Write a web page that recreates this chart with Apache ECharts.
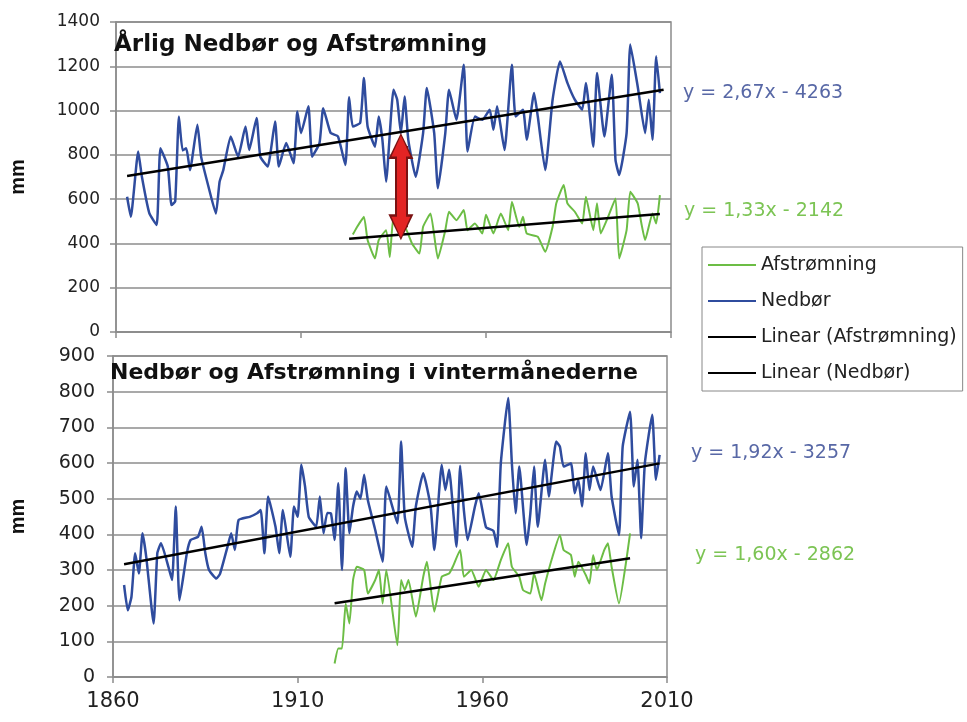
<!DOCTYPE html>
<html>
<head>
<meta charset="utf-8">
<script src="https://cdn.jsdelivr.net/npm/echarts@6/dist/echarts.min.js"></script>
<style>
html,body{margin:0;padding:0;background:#fff;}
#chart{width:967px;height:722px;}
</style>
</head>
<body>
<div id="chart"></div>
<script>
// ---- Data ----
// Annual precipitation (Nedbør), top panel
const annualRainYears = [1863,1864,1866,1867,1869,1871,1872,1874,1875,1876,1877,1878,1879,1880,1882,1883,1885,1887,1888,1889,1891,1893,1895,1896,1898,1899,1901,1903,1904,1906,1908,1909,1910,1912,1913,1915,1916,1918,1920,1922,1923,1924,1926,1927,1928,1930,1931,1932,1933,1935,1936,1937,1938,1939,1941,1943,1944,1946,1947,1949,1950,1952,1954,1955,1957,1959,1961,1962,1963,1965,1967,1968,1970,1971,1973,1974,1976,1978,1980,1982,1984,1986,1987,1989,1990,1992,1994,1995,1996,1998,1999,2001,2003,2004,2005,2006,2007];
const annualRainValues = [611,520,815,701,537,483,830,747,573,590,973,820,830,731,936,792,656,535,679,731,883,792,928,822,966,792,747,951,747,853,762,996,898,1019,792,853,1011,899,883,754,1060,928,945,1147,928,837,973,868,679,1094,1049,898,1064,868,701,898,1102,898,649,898,1094,958,1207,815,973,958,1004,913,1019,822,1207,973,1004,868,1079,973,731,1049,1222,1125,1049,1004,1125,837,1170,883,1162,777,709,898,1298,1109,898,1049,868,1245,1079];

// Annual runoff (Afstrømning), top panel
const annualRunoffYears = [1924,1925,1927,1928,1930,1931,1933,1934,1935,1937,1938,1940,1942,1943,1945,1947,1949,1950,1952,1954,1955,1957,1959,1960,1962,1964,1966,1967,1969,1970,1971,1974,1976,1978,1979,1981,1982,1984,1986,1987,1989,1990,1991,1993,1995,1996,1998,1999,2001,2002,2003,2005,2006,2007];
const annualRunoffValues = [440,470,520,415,332,415,460,339,520,445,475,400,354,475,535,332,460,543,505,551,460,490,445,530,445,535,460,588,475,520,445,430,362,475,581,664,581,543,490,611,460,581,445,520,603,332,460,633,581,490,415,535,490,618];

// Winter precipitation, bottom panel
const winterRainYears = [1863,1864,1865,1866,1867,1868,1869,1871,1872,1873,1875,1876,1877,1878,1880,1881,1883,1884,1885,1886,1888,1889,1891,1892,1893,1894,1897,1899,1900,1901,1902,1904,1905,1906,1908,1909,1910,1911,1912,1913,1915,1916,1917,1918,1919,1920,1921,1922,1923,1924,1925,1926,1927,1928,1929,1931,1933,1934,1937,1938,1939,1941,1942,1944,1946,1947,1949,1950,1951,1953,1954,1955,1956,1958,1959,1961,1963,1964,1965,1967,1968,1969,1970,1972,1973,1974,1975,1977,1978,1980,1981,1982,1984,1985,1986,1987,1988,1989,1990,1992,1994,1995,1997,1998,2000,2001,2002,2003,2004,2006,2007,2008];
const winterRainValues = [258,187,225,347,290,403,337,150,347,375,309,272,478,215,347,384,393,421,347,300,276,290,365,403,356,440,449,459,468,347,506,421,347,468,337,478,449,595,534,449,421,506,403,460,459,384,543,300,585,403,478,520,500,567,496,412,323,534,431,660,449,365,478,571,478,356,595,524,581,365,592,468,384,478,515,420,410,365,599,782,599,459,590,370,459,590,421,609,506,660,646,590,599,515,553,478,627,524,590,524,627,506,398,646,744,534,609,389,599,735,553,623];

// Winter runoff, bottom panel
const winterRunoffYears = [1920,1921,1922,1923,1924,1925,1926,1928,1929,1931,1932,1933,1934,1937,1938,1939,1940,1942,1944,1945,1947,1949,1951,1952,1954,1955,1957,1959,1961,1963,1965,1967,1968,1970,1971,1973,1974,1976,1977,1979,1981,1982,1984,1985,1986,1988,1989,1990,1991,1993,1994,1995,1997,1999,2000];
const winterRunoffValues = [38,80,80,206,150,272,309,300,234,272,300,206,300,89,272,244,272,169,281,323,183,281,290,309,356,281,300,253,300,272,328,375,309,281,244,234,290,215,262,337,398,356,342,281,323,286,262,342,300,356,375,309,206,328,403];

// Linear trend lines (end points)
const annualRainTrendYears = [1863, 2008];
const annualRainTrendValues = [705, 1094];
const annualRunoffTrendYears = [1923, 2007];
const annualRunoffTrendValues = [421, 533];
const winterRainTrendYears = [1863, 2008];
const winterRainTrendValues = [316, 599];
const winterRunoffTrendYears = [1920, 2000];
const winterRunoffTrendValues = [207, 333];

// Red double arrow (year, from, to) in the top panel
const arrowYear = [1937];
const arrowFrom = [840];
const arrowTo = [473];

// Texts
const titleTop = 'Årlig Nedbør og Afstrømning';
const titleBottom = 'Nedbør og Afstrømning i vintermånederne';
const equations = ['y = 2,67x - 4263', 'y = 1,33x - 2142', 'y = 1,92x - 3257', 'y = 1,60x - 2862'];
const legendNames = ['Afstrømning', 'Nedbør', 'Linear (Afstrømning)', 'Linear (Nedbør)'];

// ---- Build ----
function pairs(xs, ys) { return xs.map((x, i) => [x, ys[i]]); }

const BLUE = '#2f4c9e';
const GREEN = '#6cbd45';
const GRIDC = '#8c8c8c';
const FONT = 'DejaVu Sans';

function xAxisCfg(gi, showLabels) {
  return {
    type: 'value', gridIndex: gi, min: 1860, max: 2010, interval: 50,
    axisLine: { show: true, lineStyle: { color: GRIDC, width: 1.5 } },
    axisTick: { show: true, length: 6, lineStyle: { color: GRIDC, width: 1.5 } },
    splitLine: { show: false },
    axisLabel: { show: showLabels, color: '#222', fontFamily: FONT, fontSize: 21, margin: 14,
      formatter: v => String(v) }
  };
}
function yAxisCfg(gi, max, interval, fs, margin, gap) {
  return {
    type: 'value', gridIndex: gi, min: 0, max: max, interval: interval,
    name: 'mm', nameLocation: 'middle', nameGap: gap,
    nameTextStyle: { fontFamily: 'Liberation Sans', fontWeight: 'bold', fontSize: 20, color: '#111' },
    axisLine: { show: true, lineStyle: { color: GRIDC, width: 1.5 } },
    axisTick: { show: true, length: 6, lineStyle: { color: GRIDC, width: 1.5 } },
    splitLine: { show: true, lineStyle: { color: GRIDC, width: 1.5 } },
    axisLabel: { color: '#222', fontFamily: FONT, fontSize: fs, margin: margin, formatter: v => String(v) }
  };
}
function dataSeries(name, gi, xs, ys, color, width) {
  return {
    name: name, type: 'line', xAxisIndex: gi, yAxisIndex: gi,
    data: pairs(xs, ys), showSymbol: false, symbol: 'none', smooth: 0.15,
    lineStyle: { color: color, width: width }, itemStyle: { color: color },
    z: 2, silent: true, animation: false
  };
}
function trendSeries(name, gi, xs, ys) {
  return {
    name: name, type: 'line', xAxisIndex: gi, yAxisIndex: gi,
    data: pairs(xs, ys), showSymbol: false, symbol: 'none',
    lineStyle: { color: '#000', width: 2.5 }, itemStyle: { color: '#000' },
    z: 3, silent: true, animation: false
  };
}
function arrowSeries(color, width, size) {
  return {
    name: 'arrow', type: 'line', xAxisIndex: 0, yAxisIndex: 0, data: [],
    z: 5, silent: true, animation: false,
    markLine: {
      silent: true, animation: false,
      symbol: ['triangle', 'triangle'], symbolSize: size,
      label: { show: false },
      lineStyle: { color: color, width: width, type: 'solid' },
      data: arrowYear.map((y, i) => [{ coord: [y, arrowFrom[i]] }, { coord: [y, arrowTo[i]] }])
    }
  };
}

const option = {
  animation: false,
  backgroundColor: '#fff',
  grid: [
    { left: 110, top: 22, width: 561, height: 310, show: true, borderColor: GRIDC, borderWidth: 1.5, backgroundColor: '#fff' },
    { left: 109, top: 356, width: 558, height: 321, show: true, borderColor: GRIDC, borderWidth: 1.5, backgroundColor: '#fff' }
  ],
  xAxis: [xAxisCfg(0, false), xAxisCfg(1, true)],
  yAxis: [yAxisCfg(0, 1400, 200, 17, 16, 88), yAxisCfg(1, 900, 100, 19, 18, 85)],
  title: [
    { text: titleTop, left: 114, top: 34, padding: 0,
      textStyle: { fontFamily: FONT, fontWeight: 'bold', fontSize: 23, color: '#111' } },
    { text: titleBottom, left: 110, top: 362, padding: 0,
      textStyle: { fontFamily: FONT, fontWeight: 'bold', fontSize: 22, color: '#111' } }
  ],
  legend: {
    data: legendNames.map(n => ({ name: n, icon: 'rect' })),
    orient: 'vertical', left: 702, top: 247,
    padding: [7, 6, 7, 6], itemGap: 14, itemWidth: 48, itemHeight: 2,
    borderColor: '#888', borderWidth: 1, backgroundColor: '#fff',
    textStyle: { fontFamily: FONT, fontSize: 19, color: '#222', lineHeight: 22 },
    selectedMode: false
  },
  graphic: [
    { type: 'text', left: 683, top: 84, style: { text: equations[0], fill: '#5868a6', font: '19px "DejaVu Sans"' } },
    { type: 'text', left: 684, top: 202, style: { text: equations[1], fill: '#7cc454', font: '19px "DejaVu Sans"' } },
    { type: 'text', left: 691, top: 444, style: { text: equations[2], fill: '#5868a6', font: '19px "DejaVu Sans"' } },
    { type: 'text', left: 695, top: 546, style: { text: equations[3], fill: '#7cc454', font: '19px "DejaVu Sans"' } }
  ],
  series: [
    dataSeries(legendNames[0], 0, annualRunoffYears, annualRunoffValues, GREEN, 2),
    dataSeries(legendNames[1], 0, annualRainYears, annualRainValues, BLUE, 2.5),
    trendSeries(legendNames[2], 0, annualRunoffTrendYears, annualRunoffTrendValues),
    trendSeries(legendNames[3], 0, annualRainTrendYears, annualRainTrendValues),
    dataSeries(legendNames[0], 1, winterRunoffYears, winterRunoffValues, GREEN, 2),
    dataSeries(legendNames[1], 1, winterRainYears, winterRainValues, BLUE, 2.5),
    trendSeries(legendNames[2], 1, winterRunoffTrendYears, winterRunoffTrendValues),
    trendSeries(legendNames[3], 1, winterRainTrendYears, winterRainTrendValues),
    arrowSeries('#7a1212', 13, [25, 26]),
    arrowSeries('#e32424', 9, [19, 21])
  ]
};

const chart = echarts.init(document.getElementById('chart'), null, { renderer: 'canvas' });
chart.setOption(option);
</script>
</body>
</html>
